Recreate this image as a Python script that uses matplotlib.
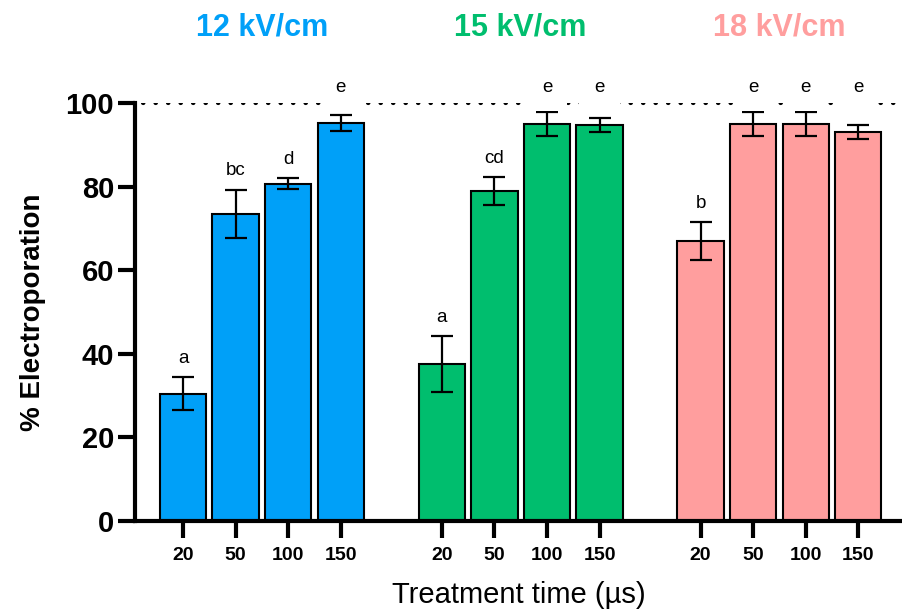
import matplotlib.pyplot as plt

plt.rcParams["font.family"] = ["Liberation Sans", "DejaVu Sans"]

# treatment times and field strengths
times = ["20", "50", "100", "150"]
fields = ["12 kV/cm", "15 kV/cm", "18 kV/cm"]
colors = ["#00A0F8", "#00BE6E", "#FF9E9E"]

# mean % electroporation and error per field strength
means = [
    [30.5, 73.5, 80.7, 95.3],
    [37.6, 78.9, 95.0, 94.7],
    [67.0, 95.0, 95.0, 93.1],
]
errors = [
    [4.0, 5.8, 1.3, 1.9],
    [6.7, 3.4, 2.8, 1.6],
    [4.5, 2.8, 2.8, 1.7],
]
letters = [
    ["a", "bc", "d", "e"],
    ["a", "cd", "e", "e"],
    ["b", "e", "e", "e"],
]

group_step = 4.92
bar_width = 0.88

fig = plt.figure(figsize=(9.03, 6.13), dpi=100)
ax = fig.add_axes([0.1495, 0.150, 0.8505, 0.682])

tick_pos = []
tick_lab = []
for g in range(len(fields)):
    xs = [g * group_step + i for i in range(len(times))]
    ax.bar(xs, means[g], width=bar_width, color=colors[g],
           edgecolor="black", linewidth=1.5, zorder=2)
    ax.errorbar(xs, means[g], yerr=errors[g], fmt="none", ecolor="black",
                elinewidth=1.6, capsize=8, capthick=1.6, zorder=3)
    for x, m, e, lab in zip(xs, means[g], errors[g], letters[g]):
        y = m + e + 4.5
        if lab == "e":
            y = 103.6
            ax.text(x, y, lab, ha="center", va="center", fontsize=13.5,
                    clip_on=False, zorder=5,
                    bbox=dict(facecolor="white", edgecolor="none",
                              boxstyle="square,pad=0.8"))
        else:
            ax.text(x, y, lab, ha="center", va="center", fontsize=13.5,
                    clip_on=False, zorder=5)
    tick_pos += xs
    tick_lab += times
    ax.text((xs[0] + xs[-1]) / 2, 1.18, fields[g], color=colors[g],
            transform=ax.get_xaxis_transform(), ha="center", va="center",
            fontsize=22, fontweight="bold")

ax.axhline(100, xmin=0.01, color="black", linewidth=3,
           linestyle=(0, (0.1, 2.9)), dash_capstyle="round", zorder=1)

ax.set_xlim(-0.913, 13.69)
ax.set_ylim(0, 100)
ax.set_xticks(tick_pos)
ax.set_xticklabels(tick_lab, fontsize=14, fontweight="bold")
ax.set_yticks([0, 20, 40, 60, 80, 100])
ax.set_yticklabels(["0", "20", "40", "60", "80", "100"],
                   fontsize=21, fontweight="bold")
ax.tick_params(axis="y", length=12, width=3, pad=3)
ax.tick_params(axis="x", length=12, width=3, pad=7)

for side in ["top", "right"]:
    ax.spines[side].set_visible(False)
ax.spines["left"].set_linewidth(3)
ax.spines["bottom"].set_linewidth(3)

ax.set_ylabel("% Electroporation", fontsize=20, fontweight="bold", labelpad=14)
ax.set_xlabel("Treatment time (µs)", fontsize=21, labelpad=12)

fig.savefig("out.png", dpi=100)
